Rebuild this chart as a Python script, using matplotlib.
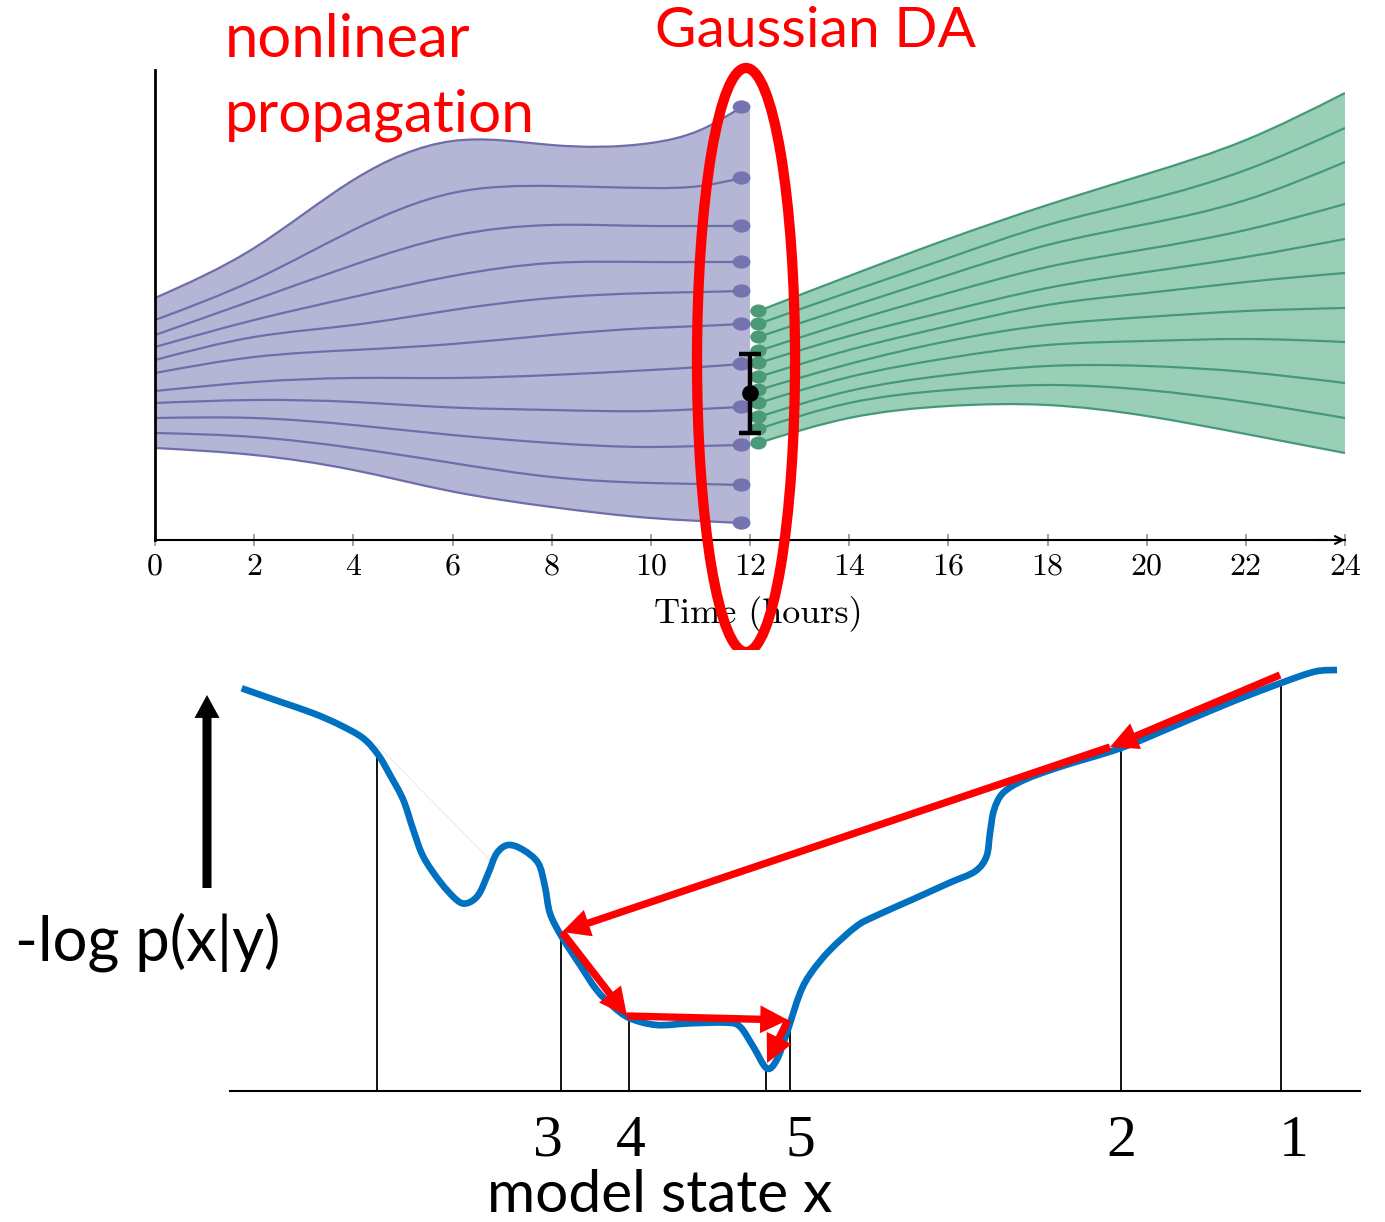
import numpy as np
import matplotlib
matplotlib.use("Agg")
import matplotlib.pyplot as plt
from matplotlib.path import Path
from matplotlib.patches import PathPatch, Ellipse

W, H, DPI = 1385, 1222, 100

# ---------------- top panel data (state units, time in hours) ----------------
purple_t = [0, 2, 4, 6, 8, 10, 11, 11.83]
purple_members = [
    [24.2, 29.2, 36.0, 39.9, 39.5, 39.7, 41.0, 43.3],
    [22.0, 26.0, 31.0, 34.7, 35.4, 35.2, 35.4, 36.2],
    [20.5, 24.0, 27.5, 30.4, 31.5, 31.4, 31.4, 31.4],
    [19.3, 22.0, 24.3, 26.4, 27.7, 27.8, 27.8, 27.8],
    [18.0, 20.3, 21.5, 23.0, 24.2, 24.7, 24.8, 24.9],
    [16.7, 18.3, 19.0, 19.6, 20.5, 21.2, 21.4, 21.6],
    [14.9, 15.8, 16.2, 16.2, 16.5, 17.0, 17.3, 17.6],
    [13.7, 14.0, 13.8, 13.25, 13.0, 12.9, 13.1, 13.3],
    [12.2, 12.2, 11.5, 10.5, 9.7, 9.3, 9.4, 9.5],
    [10.7, 10.3, 9.2, 7.7, 6.3, 5.7, 5.6, 5.5],
    [9.2, 8.5, 7.0, 4.85, 3.3, 2.2, 1.9, 1.7],
]
green_t = [12.17, 14, 16, 18, 20, 22, 24]
green_members = [
    [22.9, 26.4, 30.1, 33.5, 36.6, 40.0, 44.7],
    [21.6, 24.8, 28.2, 31.5, 34.0, 37.0, 41.2],
    [20.3, 23.3, 26.5, 29.5, 31.6, 34.0, 37.8],
    [18.9, 21.8, 24.7, 27.3, 29.1, 31.0, 33.6],
    [17.7, 20.4, 22.9, 25.2, 26.8, 28.3, 30.1],
    [16.3, 19.0, 21.4, 23.5, 24.7, 25.8, 26.7],
    [15.0, 17.6, 19.9, 21.5, 22.3, 22.9, 23.2],
    [13.7, 16.3, 18.2, 19.5, 19.9, 20.1, 19.8],
    [12.3, 14.9, 16.5, 17.4, 17.4, 16.8, 15.7],
    [11.1, 13.7, 15.0, 15.5, 15.0, 13.8, 12.2],
    [9.7, 12.2, 13.4, 13.5, 12.4, 10.6, 8.7],
]
obs_t = 12.0
obs_y = 14.67
obs_err = 3.97
time_ticks = list(range(0, 25, 2))

# ---------------- bottom panel data ----------------
cost_x = [0.117, 0.50, 0.833, 1.10, 1.333, 1.483, 1.60, 1.733, 1.833, 1.933,
          2.10, 2.267, 2.367, 2.483, 2.583, 2.667, 2.783, 2.933, 3.083, 3.15,
          3.20, 3.317, 3.50, 3.667, 3.833, 4.00, 4.267, 4.60, 4.967, 5.10,
          5.233, 5.367, 5.467, 5.567, 5.70, 5.81, 6.00, 6.26, 6.446, 6.82,
          7.19, 7.45, 7.565, 7.60, 7.64, 7.73, 7.94, 8.31, 8.91, 9.43,
          9.99, 10.51, 10.85, 11.07]
cost_y = [4.027, 3.893, 3.777, 3.66, 3.527, 3.36, 3.16, 2.91, 2.61, 2.343,
          2.093, 1.91, 1.877, 1.96, 2.177, 2.377, 2.46, 2.41, 2.277, 2.043,
          1.777, 1.543, 1.26, 1.01, 0.843, 0.727, 0.66, 0.677, 0.683, 0.643,
          0.443, 0.227, 0.31, 0.577, 0.977, 1.18, 1.41, 1.644, 1.746, 1.913,
          2.08, 2.196, 2.346, 2.58, 2.81, 2.98, 3.11, 3.245, 3.43, 3.644,
          3.88, 4.08, 4.194, 4.21]
stem_x = [1.47, 3.31, 3.99, 5.36, 5.595, 8.91, 10.51]
iter_labels = ["3", "4", "5", "2", "1"]
iter_label_x = [3.18, 4.01, 5.70, 8.91, 10.635]
arrow_x = [10.50, 8.80, 3.32, 3.97, 5.58, 5.37]
arrow_y = [4.16, 3.44, 1.59, 0.75, 0.71, 0.28]
ghost_x = [1.47, 2.62]
ghost_y = [3.46, 2.29]

# ---------------- styles ----------------
PURPLE_FILL, PURPLE_LINE, PURPLE_DOT = "#b5b5d5", "#6f6daa", "#7573b0"
GREEN_FILL, GREEN_LINE, GREEN_DOT = "#9acfb7", "#45997a", "#4a9a78"
BLUE, RED = "#0070c0", "#ff0000"
SANS = ["Lato", "DejaVu Sans"]


def smooth(x, y):
    """Catmull-Rom curve through 2-D points as a Bezier path."""
    P = np.column_stack([x, y]).astype(float)
    E = np.vstack([P[0], P, P[-1]])
    verts, codes = [P[0]], [Path.MOVETO]
    for i in range(len(P) - 1):
        p0, p1, p2, p3 = E[i], E[i + 1], E[i + 2], E[i + 3]
        verts += [p1 + (p2 - p0) / 6.0, p2 - (p3 - p1) / 6.0, p2]
        codes += [Path.CURVE4] * 3
    return verts, codes


def spline_path(t, y):
    """Natural cubic spline through (t, y) as a Bezier path."""
    t = np.asarray(t, float)
    y = np.asarray(y, float)
    n = len(t)
    h = np.diff(t)
    A = np.zeros((n, n))
    b = np.zeros(n)
    A[0, 0] = A[-1, -1] = 1.0
    for i in range(1, n - 1):
        A[i, i - 1] = h[i - 1]
        A[i, i] = 2 * (h[i - 1] + h[i])
        A[i, i + 1] = h[i]
        b[i] = 6 * ((y[i + 1] - y[i]) / h[i] - (y[i] - y[i - 1]) / h[i - 1])
    M = np.linalg.solve(A, b)
    m = np.zeros(n)
    for i in range(n - 1):
        m[i] = (y[i + 1] - y[i]) / h[i] - h[i] * (2 * M[i] + M[i + 1]) / 6
    m[-1] = (y[-1] - y[-2]) / h[-1] + h[-1] * (M[-2] + 2 * M[-1]) / 6
    verts, codes = [(t[0], y[0])], [Path.MOVETO]
    for i in range(n - 1):
        verts += [(t[i] + h[i] / 3, y[i] + m[i] * h[i] / 3),
                  (t[i + 1] - h[i] / 3, y[i + 1] - m[i + 1] * h[i] / 3),
                  (t[i + 1], y[i + 1])]
        codes += [Path.CURVE4] * 3
    return verts, codes


def band(t, top, bot, t_edge=None):
    v1, c1 = spline_path(t, top)
    v2, c2 = spline_path(t[::-1], bot[::-1])
    verts, codes = list(v1), list(c1)
    if t_edge is not None:
        verts += [(t_edge, top[-1]), (t_edge, bot[-1])]
        codes += [Path.LINETO, Path.LINETO]
    c2 = [Path.LINETO] + c2[1:]
    verts += v2 + [v2[0]]
    codes += c2 + [Path.CLOSEPOLY]
    return Path(verts, codes)


fig = plt.figure(figsize=(W / DPI, H / DPI), dpi=DPI)
fx = lambda px: px / W
fy = lambda py: 1 - py / H

# ================= top panel =================
axT = fig.add_axes([fx(155), fy(540), 1190 / W, 470 / H])
axT.set_xlim(0, 24)
axT.set_ylim(0, 47)
for s in ["top", "right"]:
    axT.spines[s].set_visible(False)
axT.spines["left"].set_linewidth(2.0)
axT.spines["bottom"].set_linewidth(1.5)
axT.set_yticks([])
axT.set_xticks(time_ticks)
axT.tick_params(axis="x", direction="inout", length=9, width=1.3,
                color="#9a9a9a", labelsize=23, pad=5)
for lab in axT.get_xticklabels():
    lab.set_fontfamily("cmr10")
axT.set_xlabel("Time (hours)", fontfamily="cmr10", fontsize=26)
axT.xaxis.set_label_coords(0.507, -0.12)
axT.annotate("", xy=(24.0, 0), xytext=(23.4, 0),
             arrowprops=dict(arrowstyle="->", lw=1.5, color="black",
                             shrinkA=0, shrinkB=0, mutation_scale=14),
             annotation_clip=False)

pt = np.array(purple_t, float)
pm = np.array(purple_members, float)
axT.add_patch(PathPatch(band(pt, pm[0], pm[-1], t_edge=12.0), facecolor=PURPLE_FILL,
                        edgecolor="none", zorder=1))
for row in pm:
    v, c = spline_path(pt, row)
    axT.add_patch(PathPatch(Path(v, c), fill=False, edgecolor=PURPLE_LINE, lw=1.6, zorder=2))
    axT.add_patch(Ellipse((pt[-1], row[-1]), 0.36, 1.33, facecolor=PURPLE_DOT,
                          edgecolor="none", zorder=3))

gt = np.array(green_t, float)
gm = np.array(green_members, float)
axT.add_patch(PathPatch(band(gt, gm[0], gm[-1]), facecolor=GREEN_FILL,
                        edgecolor="none", zorder=1))
for row in gm:
    v, c = spline_path(gt, row)
    axT.add_patch(PathPatch(Path(v, c), fill=False, edgecolor=GREEN_LINE, lw=1.6, zorder=2))
for row in gm:
    axT.add_patch(Ellipse((gt[0], row[0]), 0.33, 1.3, facecolor=GREEN_DOT,
                          edgecolor="none", zorder=3))

axT.errorbar([obs_t], [obs_y], yerr=[obs_err], fmt="o", color="black", ms=11,
             elinewidth=3.2, capsize=8, capthick=3.2, zorder=6, clip_on=False)

axT.add_patch(Ellipse((11.92, 18.0), 1.977, 58.4, fill=False, edgecolor=RED,
                      lw=7.4, zorder=10, clip_on=False))

# ================= bottom panel =================
axB = fig.add_axes([fx(230), fy(1091), 1130 / W, 441 / H])
axB.set_xlim(0, 11.3)
axB.set_ylim(0, 4.41)
for s in ["top", "right", "left"]:
    axB.spines[s].set_visible(False)
axB.spines["bottom"].set_linewidth(1.5)
axB.set_xticks([])
axB.set_yticks([])

cx = np.array(cost_x)
cy = np.array(cost_y)
stem_top = np.interp(stem_x, cx, cy)
axB.vlines(stem_x, 0, stem_top, color="black", lw=1.3, zorder=1)

v, c = smooth(cx, cy)
axB.add_patch(PathPatch(Path(v, c), fill=False, edgecolor=BLUE, lw=4.8,
                        capstyle="butt", joinstyle="round", zorder=2))

axB.annotate("", xy=(ghost_x[1], ghost_y[1]), xytext=(ghost_x[0], ghost_y[0]),
             arrowprops=dict(arrowstyle="->", lw=1.0, color="#efefef",
                             shrinkA=0, shrinkB=0), zorder=1)

for i in range(len(arrow_x) - 1):
    axB.annotate("", xy=(arrow_x[i + 1], arrow_y[i + 1]), xytext=(arrow_x[i], arrow_y[i]),
                 arrowprops=dict(width=5.3, headwidth=20, headlength=20, shrink=0,
                                 facecolor=RED, edgecolor="none"), zorder=4)

# vertical "increasing" arrow
axB.annotate("", xy=(-0.23, 3.96), xytext=(-0.23, 2.03),
             arrowprops=dict(width=6.5, headwidth=18, headlength=16.5, shrink=0,
                             facecolor="black", edgecolor="none"),
             annotation_clip=False)

for lab, x in zip(iter_labels, iter_label_x):
    axB.text(x, -0.65, lab, ha="center", va="baseline", fontsize=43,
             fontfamily="Liberation Serif", clip_on=False)

# ================= texts =================
texts = []
texts.append((fig.text(fx(225), fy(57), "nonlinear", color=RED, fontsize=40,
                       family=SANS, va="baseline"), 245))
texts.append((fig.text(fx(225), fy(131), "propagation", color=RED, fontsize=40,
                       family=SANS, va="baseline"), 310))
texts.append((fig.text(fx(655), fy(47), "Gaussian DA", color=RED, fontsize=40,
                       family=SANS, va="baseline"), 320))
texts.append((fig.text(fx(15), fy(961), "-log p(x|y)", color="black", fontsize=40,
                       family=SANS, va="baseline"), 265))
texts.append((fig.text(fx(487), fy(1212), "model state x", color="black", fontsize=40,
                       family=SANS, va="baseline"), 346))

fig.canvas.draw()
r = fig.canvas.get_renderer()
for t, target in texts:
    w = t.get_window_extent(r).width
    t.set_fontsize(t.get_fontsize() * target / w)

fig.savefig("out.png", dpi=DPI)
